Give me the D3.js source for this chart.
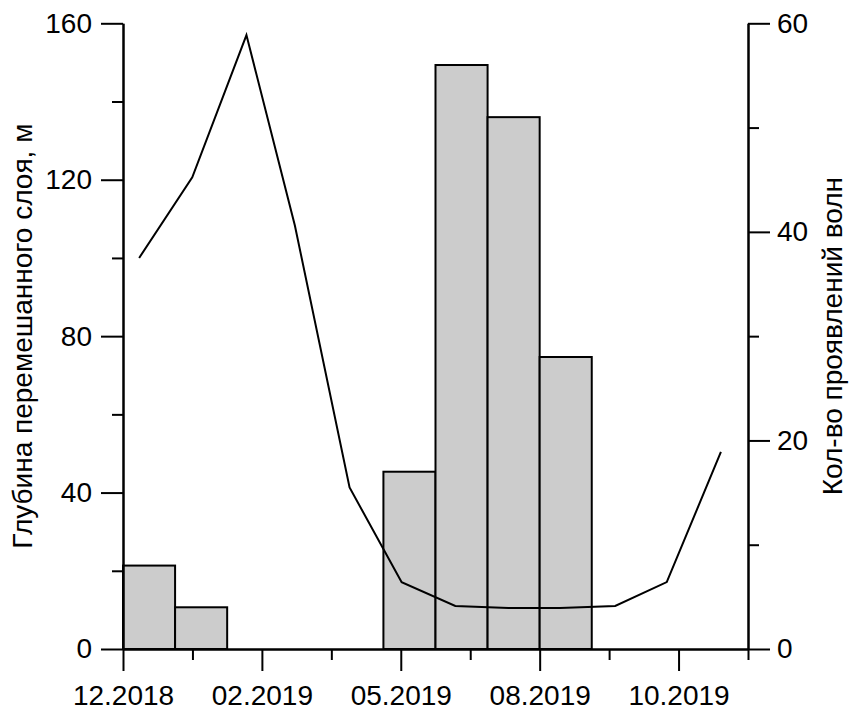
<!DOCTYPE html>
<html>
<head>
<meta charset="utf-8">
<script src="https://cdn.jsdelivr.net/npm/d3@7"></script>
<style>
  html, body { margin: 0; padding: 0; background: #fff; }
  svg text { font-family: "Liberation Sans", Arial, sans-serif; }
</style>
</head>
<body>
<svg id="chart" width="849" height="710"></svg>
<script>
// ---- data ----
const months = ["12.2018","01.2019","02.2019","03.2019","04.2019","05.2019","06.2019","07.2019","08.2019","09.2019","10.2019","11.2019"];
const waveCounts = [8, 4, 0, 0, 0, 17, 56, 51, 28, 0, 0, 0];
const lineMonths = [0.31, 1.33, 2.37, 3.30, 4.35, 5.35, 6.38, 7.40, 8.39, 9.45, 10.44, 11.48];
const mixedDepth = [100, 120.6, 157, 108.3, 41.3, 17.1, 11.0, 10.5, 10.5, 11.0, 17.1, 50.4];
const xMajorTicks = [0, 8/3, 16/3, 8, 32/3];
const xMajorLabels = ["12.2018", "02.2019", "05.2019", "08.2019", "10.2019"];
const xMinorTicks = [4/3, 4, 20/3, 28/3, 12];
const leftMajorTicks = [0, 40, 80, 120, 160];
const leftMinorTicks = [20, 60, 100, 140];
const rightMajorTicks = [0, 20, 40, 60];
const rightMinorTicks = [10, 30, 50];
const leftTitle = "Глубина перемешанного слоя, м";
const rightTitle = "Кол-во проявлений волн";

// ---- layout ----
const svg = d3.select("#chart");
const L = 123, R = 748, T = 23.3, B = 649;
const FS = 28;

const x = d3.scaleLinear().domain([0, 12]).range([L, R]);
const yL = d3.scaleLinear().domain([0, 160]).range([B, T]);
const yR = d3.scaleLinear().domain([0, 60]).range([B, T]);

// bars
const barData = months.map((m, i) => ({m, i, v: waveCounts[i]})).filter(d => d.v > 0);
svg.append("g").selectAll("rect").data(barData).join("rect")
  .attr("x", d => x(d.i))
  .attr("width", d => x(d.i + 1) - x(d.i))
  .attr("y", d => yR(d.v))
  .attr("height", d => yR(0) - yR(d.v))
  .attr("fill", "#cccccc")
  .attr("stroke", "#000")
  .attr("stroke-width", 2);

// line
const line = d3.line().x((d, i) => x(lineMonths[i])).y(d => yL(d));
svg.append("path").datum(mixedDepth)
  .attr("d", line)
  .attr("fill", "none")
  .attr("stroke", "#000")
  .attr("stroke-width", 2)
  .attr("stroke-linejoin", "miter");

function styleAxis(g) {
  g.attr("font-size", FS).attr("font-family", '"Liberation Sans", Arial, sans-serif');
  g.selectAll("path.domain").attr("stroke", "#000").attr("stroke-width", 2);
  g.selectAll(".tick line").attr("stroke", "#000").attr("stroke-width", 2);
  g.selectAll(".tick text").attr("fill", "#000");
}

// left axis
svg.append("g").attr("transform", `translate(${L},0)`)
  .call(d3.axisLeft(yL).tickValues(leftMinorTicks).tickSize(11).tickSizeOuter(0).tickFormat(""))
  .call(styleAxis);
svg.append("g").attr("transform", `translate(${L},0)`)
  .call(d3.axisLeft(yL).tickValues(leftMajorTicks).tickSize(22).tickSizeOuter(0).tickPadding(9).tickFormat(d3.format("d")))
  .call(styleAxis);

// right axis
svg.append("g").attr("transform", `translate(${R},0)`)
  .call(d3.axisRight(yR).tickValues(rightMinorTicks).tickSize(11).tickSizeOuter(0).tickFormat(""))
  .call(styleAxis);
svg.append("g").attr("transform", `translate(${R},0)`)
  .call(d3.axisRight(yR).tickValues(rightMajorTicks).tickSize(22).tickSizeOuter(0).tickPadding(7).tickFormat(d3.format("d")))
  .call(styleAxis);

// bottom axis
svg.append("g").attr("transform", `translate(0,${B})`)
  .call(d3.axisBottom(x).tickValues(xMinorTicks).tickSize(11).tickSizeOuter(0).tickFormat(""))
  .call(styleAxis);
svg.append("g").attr("transform", `translate(0,${B})`)
  .call(d3.axisBottom(x).tickValues(xMajorTicks).tickSize(22).tickSizeOuter(0).tickPadding(14)
        .tickFormat((d, i) => xMajorLabels[i]))
  .call(styleAxis);

// axis titles
svg.append("text")
  .attr("transform", `translate(32,${(T + B) / 2}) rotate(-90)`)
  .attr("text-anchor", "middle")
  .attr("font-size", FS)
  .attr("fill", "#000")
  .text(leftTitle);
svg.append("text")
  .attr("transform", `translate(842,${(T + B) / 2}) rotate(-90)`)
  .attr("text-anchor", "middle")
  .attr("font-size", FS)
  .attr("fill", "#000")
  .text(rightTitle);
</script>
</body>
</html>
